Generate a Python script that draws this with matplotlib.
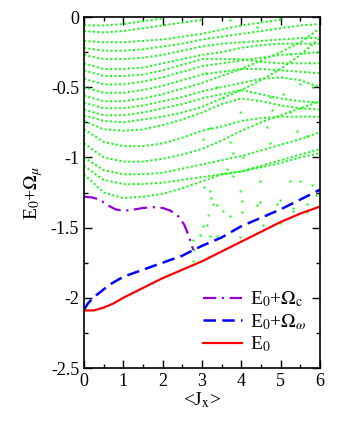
import matplotlib
matplotlib.use("Agg")
import matplotlib.pyplot as plt
import numpy as np

plt.rcParams['font.family'] = ['Liberation Serif', 'DejaVu Serif']
plt.rcParams['mathtext.fontset'] = 'stix'
plt.rcParams['axes.unicode_minus'] = False

# green spectrum: y values at the knots in GX (nan = no points there)
GX = [0, 0.5, 1, 1.5, 2, 2.5, 3, 3.5, 4, 4.5, 5, 5.5, 6]
nan = np.nan
green_curves = [
    [-0.06, -0.06, -0.05, -0.03, -0.01, nan, nan, nan, nan, nan, nan, nan, nan],
    [-0.10, -0.11, -0.10, -0.08, -0.06, -0.04, -0.02, nan, nan, nan, nan, nan, nan],
    [-0.17, -0.18, -0.18, -0.17, -0.16, -0.14, -0.12, -0.09, -0.06, -0.04, -0.02, nan, nan],
    [-0.22, -0.24, -0.24, -0.23, -0.21, -0.19, -0.16, -0.14, -0.12, -0.10, -0.08, -0.06, -0.05],
    [-0.27, -0.30, -0.30, -0.29, -0.27, -0.24, -0.21, -0.19, -0.18, -0.17, -0.16, -0.15, -0.15],
    [-0.33, -0.37, -0.37, -0.36, -0.33, -0.30, -0.27, -0.25, -0.22, -0.20, -0.19, -0.19, -0.19],
    [-0.38, -0.42, -0.42, -0.41, -0.38, -0.34, -0.30, -0.30, -0.30, -0.32, -0.33, -0.33, -0.33],
    [-0.44, -0.48, -0.48, -0.46, -0.43, -0.39, -0.35, -0.33, -0.31, -0.29, -0.27, -0.26, -0.25],
    [-0.50, -0.54, -0.54, -0.52, -0.49, -0.45, -0.41, -0.39, -0.37, -0.37, -0.38, -0.39, -0.40],
    [-0.56, -0.60, -0.60, -0.58, -0.55, -0.51, -0.47, -0.42, -0.37, -0.31, -0.25, -0.18, -0.08],
    [-0.61, -0.65, -0.65, -0.63, -0.60, -0.57, -0.53, -0.50, -0.47, -0.44, -0.43, -0.45, -0.50],
    [-0.66, -0.70, -0.70, -0.68, -0.65, -0.62, -0.58, -0.55, -0.52, -0.55, -0.58, -0.60, -0.61],
    [-0.70, -0.74, -0.75, -0.73, -0.71, -0.68, -0.64, -0.58, -0.52, -0.45, -0.37, -0.27, -0.15],
    [-0.74, -0.80, -0.81, -0.80, -0.77, -0.73, -0.68, -0.62, -0.58, -0.60, -0.63, -0.65, -0.66],
    [-0.80, -0.89, -0.92, -0.92, -0.90, -0.86, -0.81, -0.78, -0.74, -0.72, -0.71, -0.71, -0.71],
    [-0.90, -1.00, -1.03, -1.03, -1.01, -0.98, -0.94, -0.88, -0.81, -0.75, -0.70, -0.65, -0.60],
    [-1.00, -1.09, -1.12, -1.12, -1.11, -1.08, -1.05, -1.02, -0.99, -0.95, -0.91, -0.87, -0.82],
    [-1.06, -1.16, -1.19, -1.19, -1.18, -1.16, -1.14, -1.12, -1.10, -1.06, -1.02, -0.98, -0.94],
    [-1.12, -1.25, -1.29, -1.28, -1.26, -1.22, -1.17, -1.12, -1.10, -1.07, -1.04, -1.00, -0.97],
]

# isolated green points
scatter_x = [3.2, 3.24, 3.29, 3.16, 3.12, 2.95, 2.78, 3.97, 4.01, 4.01, 3.97, 4.47, 4.64,
             4.81, 4.98, 5.32, 5.66, 5.66, 3.8, 3.63, 3.04, 2.8, 2.78, 3.37, 3.71, 3.03,
             3.2, 3.37, 4.39, 4.55, 4.98, 5.32, 3.2, 3.03, 3.8, 4.05, 4.47, 4.73, 5.24,
             5.49, 3.54, 4.9, 5.41, 5.66, 4.64, 3.71, 4.73, 4.77, 5.07, 5.49, 5.83, 4.39,
             4.98, 3.71, 5.24, 3.1, 3.37, 3.54, 3.97, 5.24, 5.9, 5.8]
scatter_y = [-1.24, -1.29, -1.33, -1.41, -1.48, -1.55, -1.59, -1.24, -1.31, -1.39, -1.57, -1.32, -1.41,
             -1.39, -1.30, -1.36, -1.33, -1.39, -1.13, -1.08, -1.21, -1.66, -1.74, -1.34, -1.42, -1.49,
             -1.56, -1.56, -1.34, -1.48, -1.47, -1.38, -0.79, -0.87, -0.97, -1.00, -1.17, -0.90, -1.17,
             -1.17, -1.38, -1.33, -0.81, -0.85, -0.78, -0.89, -0.57, -0.66, -0.55, -0.48, -0.50, -0.07,
             -0.01, -0.02, -0.26, -0.40, -0.50, -0.58, -0.68, -0.68, -1.27, -1.20]

# E0 + Omega_c
omc_x = [0, 0.2, 0.4, 0.6, 0.8, 1.0, 1.2, 1.5, 1.8, 2.0, 2.2, 2.4, 2.55, 2.65, 2.72, 2.78]
omc_y = [-1.28, -1.285, -1.30, -1.34, -1.37, -1.38, -1.375, -1.36, -1.355, -1.36, -1.38,
         -1.42, -1.48, -1.55, -1.61, -1.66]

# E0 + Omega_omega
omw_x = [0, 0.1, 0.2, 0.32, 0.5, 0.66, 1.0, 1.5, 2.0, 2.5, 2.78, 3.0, 3.5, 4.0, 4.5, 5.0, 5.5, 6.0]
omw_y = [-2.085, -2.04, -2.01, -1.98, -1.94, -1.905, -1.85, -1.80, -1.75, -1.70, -1.66, -1.63,
         -1.57, -1.49, -1.43, -1.37, -1.30, -1.23]

# E0
e0_x = [0, 0.25, 0.5, 0.75, 1.0, 1.5, 2.0, 2.5, 3.0, 3.5, 4.0, 4.5, 5.0, 5.5, 6.0]
e0_y = [-2.09, -2.09, -2.07, -2.04, -2.00, -1.93, -1.86, -1.80, -1.74, -1.67, -1.60, -1.53,
        -1.46, -1.40, -1.35]

yticks = [0, -0.5, -1, -1.5, -2, -2.5]
ytick_labels = ['0', '-0.5', '-1', '-1.5', '-2', '-2.5']
xticks = [0, 1, 2, 3, 4, 5, 6]

fig = plt.figure(figsize=(3.37, 4.36), dpi=100)
ax = fig.add_axes([84 / 337, 1 - 368 / 436, 236 / 337, 351 / 436])

green = '#00ff00'
for cy in green_curves:
    ax.plot(GX, cy, color=green, lw=1.4, ls=(0, (1, 1.3)))
ax.plot(scatter_x, scatter_y, ls='none', marker='s', ms=1.6, mec='none', mfc=green)

ax.plot(omc_x, omc_y, color='#9400d3', lw=1.6, ls=(0, (6, 2.5, 1, 2.5)), label=r'E$_0$+$\Omega_\mathrm{c}$')
ax.plot(omw_x, omw_y, color='#0000ff', lw=1.8, ls=(0, (5, 2.5)), label=r'E$_0$+$\Omega_\omega$')
ax.plot(e0_x, e0_y, color='#ff0000', lw=1.6, label=r'E$_0$')

ax.set_xlim(0, 6)
ax.set_ylim(-2.5, 0)
ax.set_xticks(xticks)
ax.set_xticklabels([str(t) for t in xticks])
ax.set_yticks(yticks)
ax.set_yticklabels(ytick_labels)
ax.set_xticks(np.arange(0.5, 6, 1), minor=True)
ax.set_yticks([-0.25, -0.75, -1.25, -1.75, -2.25], minor=True)
ax.tick_params(which='both', direction='in', top=True, right=True, labelsize=13)
ax.tick_params(which='major', length=6, width=1)
ax.tick_params(which='minor', length=3, width=1)
for s in ax.spines.values():
    s.set_linewidth(1.2)

ax.set_xlabel(r'<J$_\mathrm{x}$>', fontsize=14, labelpad=0)
ax.set_ylabel(r'E$_0$+$\Omega_\mu$', fontsize=14, labelpad=4)

ax.legend(loc='lower right', frameon=False, fontsize=14, handlelength=2.0,
          handletextpad=0.4, labelspacing=0.15, borderaxespad=0.3,
          bbox_to_anchor=(1.0, 0.0))

fig.savefig('out.png', dpi=100)
